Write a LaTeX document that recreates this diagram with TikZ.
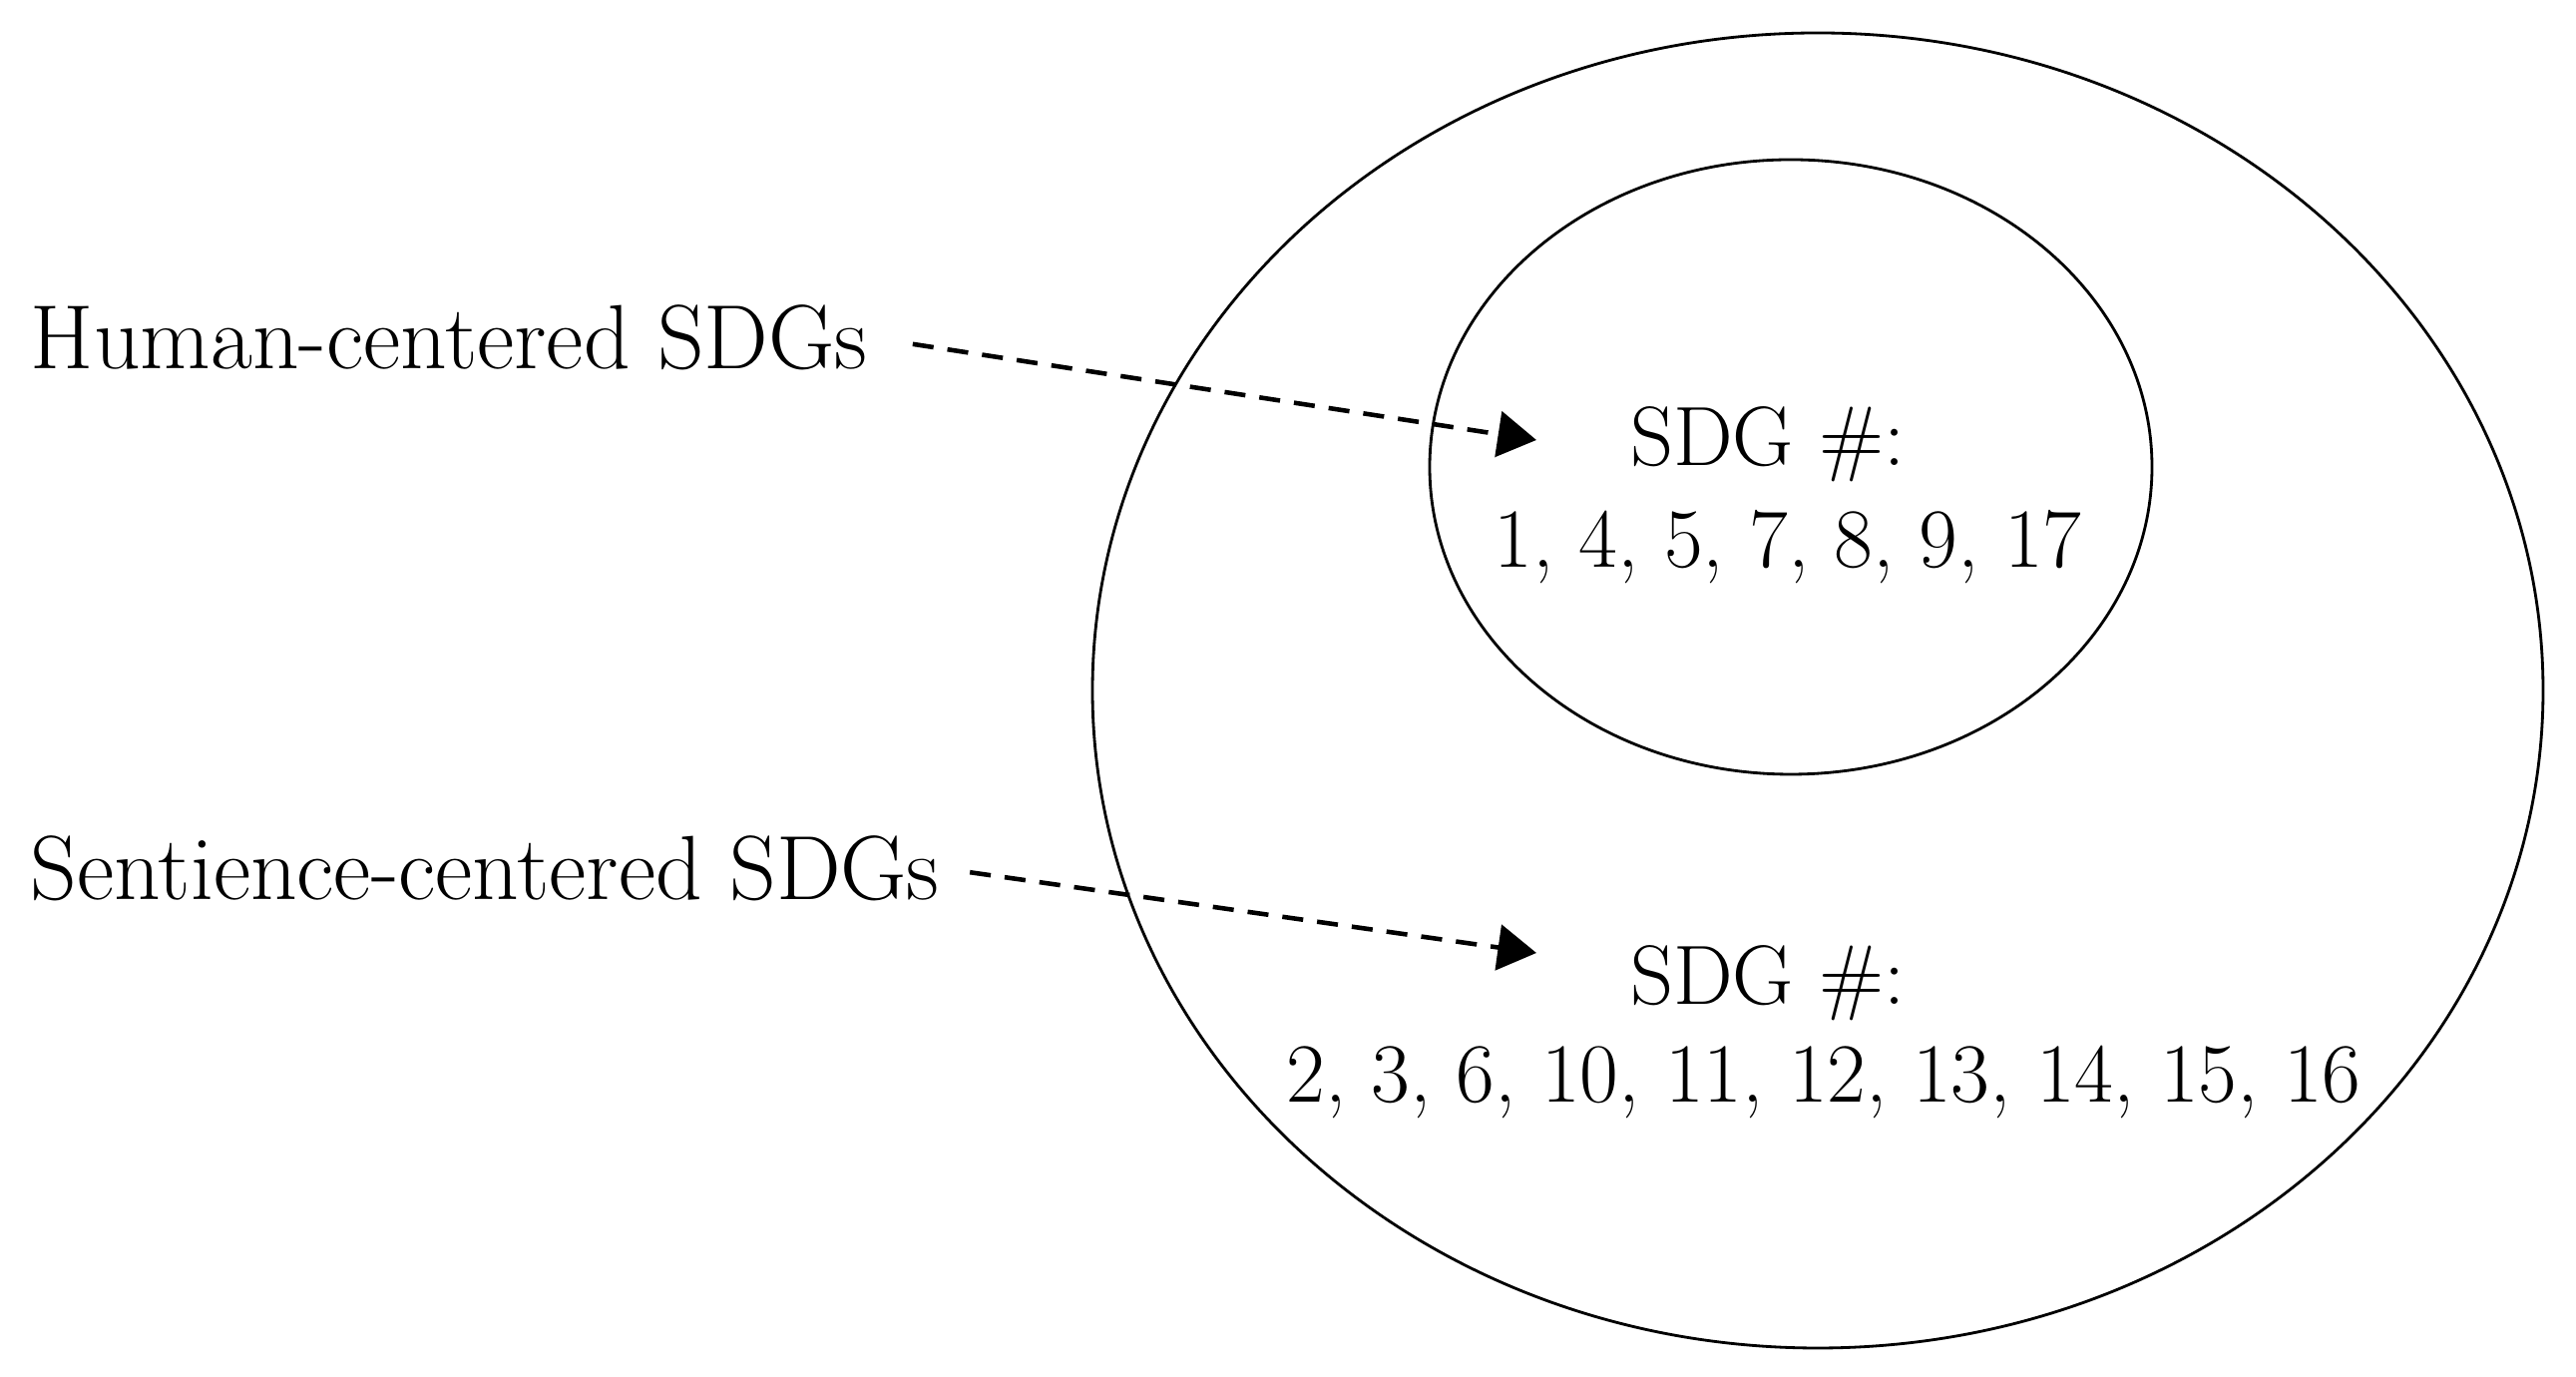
\documentclass[tikz,border=0pt]{standalone}
\usetikzlibrary{shapes,arrows.meta}
\tikzset{ring/.style={ellipse, draw, line width=0.8pt, inner sep=0pt}}
\tikzset{lbl/.style={font=\fontsize{24}{28}\selectfont, inner sep=0pt}}
\tikzset{side/.style={font=\fontsize{26}{30}\selectfont, inner sep=0pt, anchor=west}}
\tikzset{pointer/.style={dashed, dash pattern=on 6pt off 4pt, line width=1.3pt, -{Triangle[length=11pt,width=13pt]}}}

\begin{document}
\begin{tikzpicture}
        \useasboundingbox (0,0) rectangle (25.82,13.8);
        \node[ring, minimum width=14.54cm, minimum height=13.18cm] (outer) at (18.22,6.88) {};
        \node[ring, minimum width=7.24cm, minimum height=6.16cm] (inner) at (17.95,9.12) {};

        \node[lbl] (sdga) at (17.72,9.35) {SDG \#:};
        \node[lbl] (lista) at (17.92,8.32) {1, 4, 5, 7, 8, 9, 17};
        \node[lbl] (sdgb) at (17.72,3.95) {SDG \#:};
        \node[lbl] (listb) at (18.28,2.96) {2, 3, 6, 10, 11, 12, 13, 14, 15, 16};

        \node[side] (human) at (0.30,10.42) {Human-centered SDGs};
        \node[side] (sentience) at (0.30,5.10) {Sentience-centered SDGs};

        \coordinate (tipa) at (15.40,9.39);
        \coordinate (tipb) at (15.40,4.25);
        \draw[pointer, shorten <=0.45cm] (human.east) -- (tipa);
        \draw[pointer, shorten <=0.3cm] (sentience.east) -- (tipb);
\end{tikzpicture}
\end{document}
